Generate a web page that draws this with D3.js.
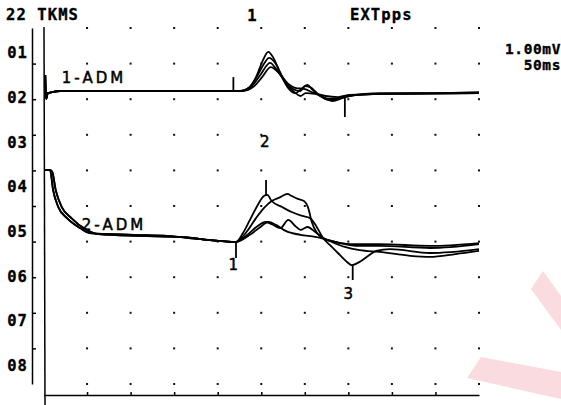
<!DOCTYPE html>
<html>
<head>
<meta charset="utf-8">
<script src="https://cdn.jsdelivr.net/npm/d3@7"></script>
<style>
  body { margin: 0; background: #fff; }
  svg { display: block; }
  .mono { font-family: 'DejaVu Sans Mono', monospace; font-weight: bold; font-size: 15.5px; letter-spacing: 1.1px; fill: #000; stroke: #000; stroke-width: 0.35; }
  .hand { font-family: 'DejaVu Sans', sans-serif; font-size: 15px; fill: #000; stroke: #000; stroke-width: 0.5; }
</style>
</head>
<body>
<svg></svg>
<script>

// time in ms, amplitude in mV (0 = bottom grid row)
const channelLabels = ['01', '02', '03', '04', '05', '06', '07', '08']
const timeTicks = [50, 100, 150, 200, 250, 300, 350, 400, 450]

const ch1Start = [[2, 8.68], [3, 8.01], [5, 8.17], [10, 8.20], [19, 8.23], [218, 8.23]]
const ch1A = [[226, 8.23], [235, 8.31], [244, 8.62], [252, 9.10], [258, 9.33], [264, 9.16], [272, 8.71], [281, 8.31], [289, 8.17], [297, 8.31], [303, 8.40], [309, 8.26], [320, 8.06], [329, 8.01], [340, 8.03], [352, 8.09], [369, 8.15], [386, 8.17], [432, 8.17], [500, 8.20]]
const ch1B = [[226, 8.23], [237, 8.34], [246, 8.68], [253, 8.99], [259, 9.16], [266, 9.02], [275, 8.60], [285, 8.31], [295, 8.23], [300, 8.37], [306, 8.34], [315, 8.15], [327, 7.98], [337, 8.01], [346, 8.09], [363, 8.12], [386, 8.15], [500, 8.17]]
const ch1C = [[226, 8.23], [239, 8.37], [249, 8.68], [260, 9.02], [268, 8.82], [278, 8.46], [288, 8.20], [295, 8.09], [301, 8.17], [312, 8.15], [323, 8.03], [332, 7.95], [343, 8.03], [358, 8.12], [386, 8.15], [500, 8.17]]
const ch1D = [[228, 8.23], [242, 8.37], [251, 8.62], [261, 8.90], [270, 8.74], [281, 8.43], [290, 8.31], [299, 8.29], [311, 8.17], [324, 8.09], [338, 8.06], [352, 8.12], [386, 8.15], [500, 8.17]]

const ch2Outer = [[2, 6.01], [7.5, 6.01], [11, 5.45], [17, 4.97], [27, 4.66], [42, 4.38], [53, 4.24], [103, 4.19], [142, 4.16], [180, 4.07], [221, 3.99]]
const ch2Inner = [[2, 6.01], [7.5, 6.01], [10, 5.96], [14, 5.45], [21, 4.97], [32, 4.66], [48, 4.35], [63, 4.21], [111, 4.16], [157, 4.13], [191, 4.04], [221, 3.99]]
const ch2A = [[229, 4.24], [237, 4.61], [246, 5.03], [253, 5.28], [257, 5.31], [262, 5.14], [274, 4.97], [285, 4.83], [297, 4.72], [306, 4.66], [313, 4.44], [321, 4.10], [329, 3.90], [338, 3.68], [347, 3.46], [354, 3.34], [363, 3.43], [373, 3.60], [382, 3.74], [398, 3.79], [444, 3.68], [500, 3.79]]
const ch2B = [[233, 4.27], [244, 4.66], [253, 4.94], [262, 5.14], [272, 5.25], [280, 5.34], [285, 5.28], [292, 5.20], [299, 5.14], [304, 4.94], [308, 4.55], [314, 4.24], [321, 4.10], [331, 3.99], [346, 3.85], [363, 3.76], [386, 3.71], [421, 3.60], [444, 3.57], [473, 3.65], [500, 3.74]]
const ch2C = [[235, 4.21], [246, 4.44], [255, 4.55], [262, 4.49], [272, 4.38], [281, 4.61], [289, 4.44], [295, 4.33], [303, 4.41], [312, 4.27], [321, 4.10], [335, 3.99], [352, 3.93], [386, 3.93], [444, 3.88], [500, 3.96]]
const ch2D = [[237, 4.19], [249, 4.41], [258, 4.55], [267, 4.47], [278, 4.30], [295, 4.19], [312, 4.13], [323, 4.07], [340, 3.96], [363, 3.88], [386, 3.88], [444, 3.82], [500, 3.93]]

// cursor marks: [time, from, to]
const markers = [[218, 8.62, 8.23], [346, 8.06, 7.50], [221, 3.99, 3.54], [255.5, 5.73, 5.28], [355, 3.34, 2.92]]
// marker numbers: [text, time, value]
const markerNums = [['1', 240, 10.19], ['2', 254, 6.65], ['1', 218, 3.2], ['3', 350, 2.4]]

const w = 561
const h = 405

let svg = d3.select('svg').attr('width', w).attr('height', h)

let xScale = d3.scaleLinear().domain([0, 500]).range([43.5, 479])
let yScale = d3.scaleLinear().domain([0, 10]).range([384, 28])
let labelScale = d3.scalePoint().domain(channelLabels).range([52, 365])

let line = d3.line()
  .x(d => xScale(d[0]))
  .y(d => yScale(d[1]))
  .curve(d3.curveMonotoneX)

// watermark
svg.append('g').attr('fill', '#fadbe0')
  .selectAll('polygon')
  .data([
    [[543, 271], [561, 296], [561, 330], [531, 289]],
    [[481, 357], [561, 372], [561, 399], [467, 378]]
  ])
  .enter()
  .append('polygon')
  .attr('points', d => d.map(p => p.join(',')).join(' '))

// grid dots
let dots = []
d3.range(0, 11).forEach(r => d3.range(1, 11).forEach(c => dots.push([c * 50, r])))
svg.append('g')
  .selectAll('rect')
  .data(dots)
  .enter()
  .append('rect')
  .attr('x', d => xScale(d[0]) - 1)
  .attr('y', d => yScale(d[1]) - 1)
  .attr('width', 2)
  .attr('height', 2)
  .attr('fill', '#111')

// left channel axis
let chAxis = svg.append('g')
  .attr('transform', 'translate(32, 0)')
  .call(d3.axisRight(yScale).tickValues(d3.range(1, 10)).tickSize(4).tickSizeOuter(0).tickFormat(''))
chAxis.selectAll('path, line').attr('stroke', '#000').attr('stroke-width', 1.5)

let lblAxis = svg.append('g')
  .attr('transform', 'translate(29, 0)')
  .call(d3.axisLeft(labelScale).tickSize(0).tickPadding(1))
lblAxis.select('.domain').remove()
lblAxis.selectAll('text').attr('class', 'mono').attr('dy', '0.36em').attr('text-anchor', 'end')

// time axis
let tAxis = svg.append('g')
  .attr('transform', 'translate(0, 395)')
  .call(d3.axisTop(xScale).tickValues(timeTicks).tickSize(3).tickSizeOuter(0).tickFormat(''))
tAxis.selectAll('path, line').attr('stroke', '#000').attr('stroke-width', 1.5)

// left border
svg.append('line')
  .attr('x1', xScale(0) + 0.5).attr('x2', xScale(0) + 1.5)
  .attr('y1', 27).attr('y2', 405)
  .attr('stroke', '#000').attr('stroke-width', 1.5)

// traces
let traces = [
  ch1Start.concat(ch1A), ch1Start.concat(ch1B), ch1Start.concat(ch1C), ch1Start.concat(ch1D),
  ch2Outer.concat(ch2A), ch2Inner.concat(ch2B), ch2Outer.concat(ch2C), ch2Inner.concat(ch2D)
]
svg.append('g')
  .selectAll('path')
  .data(traces)
  .enter()
  .append('path')
  .attr('d', line)
  .attr('fill', 'none')
  .attr('stroke', '#000')
  .attr('stroke-width', 1.8)
  .attr('stroke-linejoin', 'round')

svg.append('g')
  .selectAll('line')
  .data(markers)
  .enter()
  .append('line')
  .attr('x1', d => xScale(d[0])).attr('x2', d => xScale(d[0]))
  .attr('y1', d => yScale(d[1])).attr('y2', d => yScale(d[2]))
  .attr('stroke', '#000').attr('stroke-width', 1.8)

svg.append('g')
  .selectAll('text')
  .data(markerNums)
  .enter()
  .append('text')
  .attr('class', (d, i) => i == 0 ? 'mono' : 'hand')
  .attr('x', d => xScale(d[1]))
  .attr('y', d => yScale(d[2]))
  .attr('text-anchor', 'middle')
  .text(d => d[0])

// header texts
svg.append('text').attr('class', 'mono').attr('x', 6).attr('y', 20).text('22 TKMS')
svg.append('text').attr('class', 'mono').attr('x', 350).attr('y', 20).text('EXTpps')
svg.append('text').attr('class', 'mono').attr('x', 561).attr('y', 54).attr('text-anchor', 'end').attr('font-size', '14.5px').attr('style', 'font-size:14.5px;letter-spacing:0.6px').text('1.00mV')
svg.append('text').attr('class', 'mono').attr('x', 561).attr('y', 70).attr('text-anchor', 'end').attr('style', 'font-size:14.5px;letter-spacing:0.6px').text('50ms')

svg.append('text').attr('class', 'hand').attr('x', xScale(21)).attr('y', yScale(8.62) + 6).attr('letter-spacing', '3px').text('1-ADM')
svg.append('text').attr('class', 'hand').attr('x', xScale(44)).attr('y', yScale(4.38) + 2).attr('letter-spacing', '3px').text('2-ADM')

</script>
</body>
</html>
